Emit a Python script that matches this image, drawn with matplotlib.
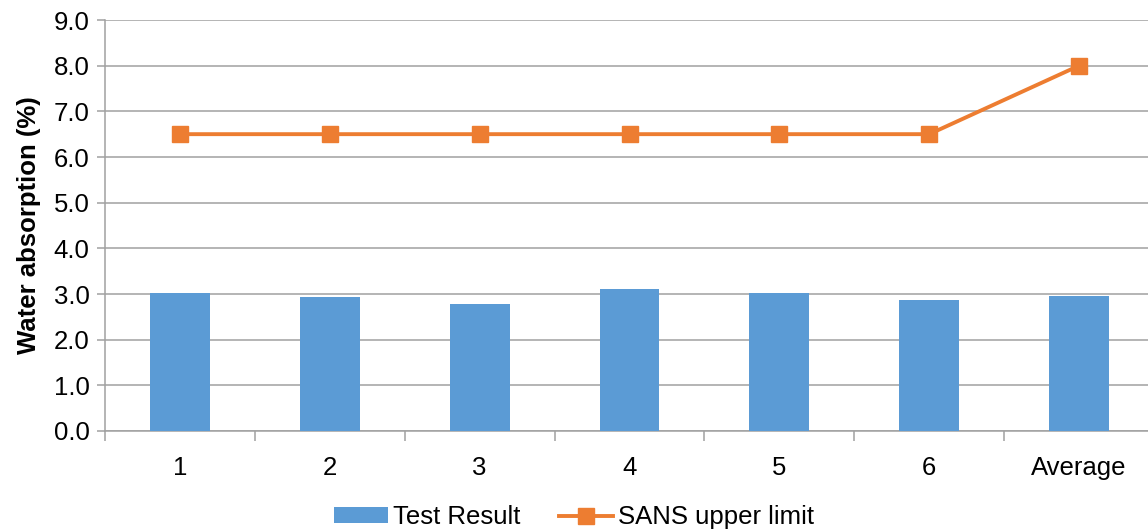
import matplotlib
matplotlib.use("Agg")
import matplotlib.pyplot as plt
import numpy as np

categories = ["1", "2", "3", "4", "5", "6", "Average"]
test_result = [3.02, 2.93, 2.78, 3.11, 3.03, 2.87, 2.96]
sans_limit = [6.5, 6.5, 6.5, 6.5, 6.5, 6.5, 8.0]
yticks = [0, 1, 2, 3, 4, 5, 6, 7, 8, 9]

plt.rcParams['font.family'] = ['Liberation Sans', 'DejaVu Sans']
FS = 18.5

fig = plt.figure(figsize=(11.48, 5.31), dpi=100)
ax = fig.add_axes([105/1148, 100/531, 1049/1148, 411/531])

x = np.arange(len(categories))
bar_c = '#5B9BD5'
line_c = '#ED7D31'
grid_c = '#A0A0A0'

bars = ax.bar(x, test_result, width=0.4, color=bar_c, zorder=3, label='Test Result')
line, = ax.plot(x, sans_limit, color=line_c, linewidth=2.8, marker='s', markersize=11,
                zorder=4, label='SANS upper limit')

ax.set_xlim(-0.5, len(categories) - 0.5)
ax.set_ylim(0, 9)
ax.set_yticks(yticks)
ax.set_yticklabels([f"{v:.1f}" for v in yticks], fontsize=FS)
ax.yaxis.grid(True, color=grid_c, linewidth=1.1, zorder=0)
ax.set_axisbelow(True)

ax.set_xticks(x)
ax.set_xticklabels(categories, fontsize=FS)
ax.set_xticks(np.arange(-0.5, len(categories)), minor=True)
ax.tick_params(axis='x', which='major', length=0, pad=18)
ax.tick_params(axis='x', which='minor', length=7, color=grid_c, width=1.1)
ax.tick_params(axis='y', length=6, color=grid_c, width=1.1, pad=5)

for s in ['top', 'right']:
    ax.spines[s].set_visible(False)
for s in ['left', 'bottom']:
    ax.spines[s].set_color(grid_c)
    ax.spines[s].set_linewidth(1.1)

ax.set_ylabel('Water absorption (%)', fontsize=FS, fontweight='bold', labelpad=9)

leg = fig.legend([bars, line], ['Test Result', 'SANS upper limit'],
                 loc='lower center', bbox_to_anchor=(0.5, -0.04), ncol=2,
                 frameon=False, fontsize=FS, handlelength=2.1, handleheight=0.55,
                 handletextpad=0.2, columnspacing=1.5)

fig.savefig('out.png', dpi=100)
